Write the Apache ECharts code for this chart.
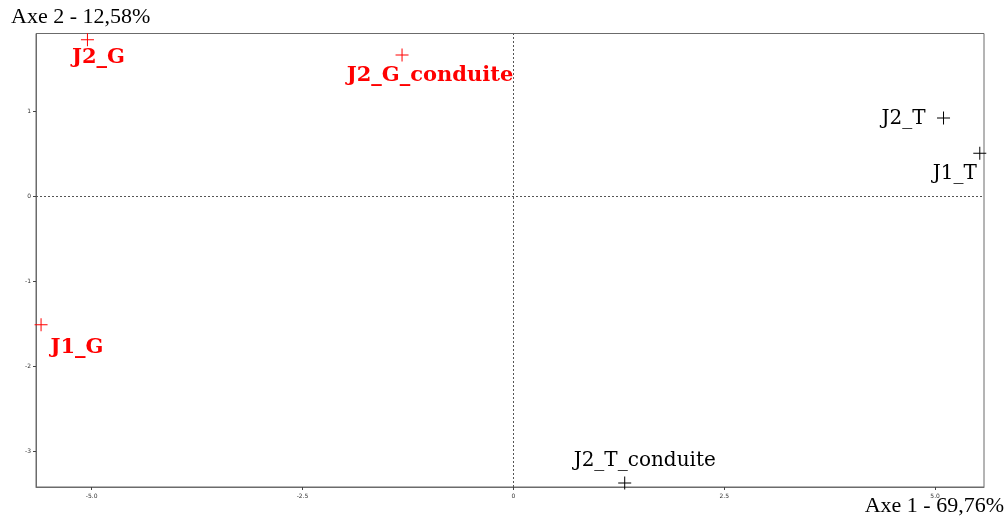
<!DOCTYPE html>
<html>
<head>
<meta charset="utf-8">
<script src="https://cdn.jsdelivr.net/npm/echarts@6/dist/echarts.min.js"></script>
<style>html,body{margin:0;padding:0;background:#fff}#c{width:1008px;height:522px}</style>
</head>
<body>
<div id="c"></div>
<script>
// ---- data ----
const names = ['J2_G', 'J2_G_conduite', 'J1_G', 'J2_T', 'J1_T', 'J2_T_conduite'];
const dim1 = [-5.05, -1.32, -5.60, 5.10, 5.53, 1.32];
const dim2 = [1.84, 1.66, -1.51, 0.92, 0.505, -3.37];
const groups = ['G', 'G', 'G', 'T', 'T', 'T'];
const xTicks = [-5, -2.5, 0, 2.5, 5];
const xTickLabels = ['-5.0', '-2.5', '0', '2.5', '5.0'];
const yTicks = [-3, -2, -1, 0, 1];
const yTickLabels = ['-3', '-2', '-1', '0', '1'];
const xAxisTitle = 'Axe 1 - 69,76%';
const yAxisTitle = 'Axe 2 - 12,58%';

// ---- styling ----
const serif = '"Liberation Serif", "DejaVu Serif", serif';
const labelSerif = '"DejaVu Serif", "Liberation Serif", serif';
const labelOffsets = {
  'J2_G': [11, 18],
  'J2_G_conduite': [28, 21],
  'J1_G': [36, 23],
  'J2_T': [-40, 1],
  'J1_T': [-25, 20],
  'J2_T_conduite': [20, -22]
};
const plusPath = 'path://M0,6H13V7H0Z M6,0H7V13H6Z';

function buildData(g) {
  const out = [];
  names.forEach((n, i) => {
    if (groups[i] !== g) return;
    out.push({
      name: n,
      value: [dim1[i], dim2[i]],
      label: {offset: labelOffsets[n]}
    });
  });
  return out;
}

const chart = echarts.init(document.getElementById('c'));
const tickLabelFmt = (arr, vals) => v => {
  const idx = vals.findIndex(t => Math.abs(t - v) < 1e-9);
  return idx >= 0 ? arr[idx] : '';
};

chart.setOption({
  animation: false,
  grid: {left: 36, top: 33.5, right: 24, bottom: 35, show: true, borderColor: '#6b6b6b', borderWidth: 1, backgroundColor: 'transparent'},
  xAxis: {
    type: 'value', min: -5.66, max: 5.58,
    axisLine: {show: true, onZero: false, lineStyle: {color: '#6b6b6b'}},
    axisTick: {show: true, length: 3, customValues: xTicks, lineStyle: {color: '#444'}},
    axisLabel: {customValues: xTicks, formatter: tickLabelFmt(xTickLabels, xTicks), fontSize: 6, color: '#333', margin: 6, fontFamily: 'DejaVu Sans'},
    splitLine: {show: false}
  },
  yAxis: {
    type: 'value', min: -3.416, max: 1.913,
    axisLine: {show: true, onZero: false, lineStyle: {color: '#6b6b6b'}},
    axisTick: {show: true, length: 3, customValues: yTicks, lineStyle: {color: '#444'}},
    axisLabel: {customValues: yTicks, formatter: tickLabelFmt(yTickLabels, yTicks), fontSize: 6, color: '#333', margin: 5, fontFamily: 'DejaVu Sans'},
    splitLine: {show: false}
  },
  graphic: [
    {type: 'text', left: 11, top: 6, style: {text: yAxisTitle, font: '22px ' + serif, fill: '#000'}},
    {type: 'text', right: 4, top: 495, style: {text: xAxisTitle, font: '22px ' + serif, fill: '#000'}}
  ],
  series: [
    {
      type: 'scatter', name: 'G',
      symbol: plusPath, symbolSize: 13,
      itemStyle: {color: '#ff0000', opacity: 1},
      label: {show: true, formatter: '{b}', position: 'inside', color: '#ff0000', fontWeight: 'bold', fontSize: 21, fontFamily: labelSerif},
      data: buildData('G'),
      markLine: {
        silent: true, symbol: 'none', label: {show: false},
        lineStyle: {color: '#555', type: [2, 2], width: 1, opacity: 1},
        data: [{xAxis: 0}, {yAxis: 0}]
      }
    },
    {
      type: 'scatter', name: 'T',
      symbol: plusPath, symbolSize: 13,
      itemStyle: {color: '#000', opacity: 1},
      label: {show: true, formatter: '{b}', position: 'inside', color: '#000', fontSize: 20, fontFamily: labelSerif},
      data: buildData('T')
    }
  ]
});
</script>
</body>
</html>
